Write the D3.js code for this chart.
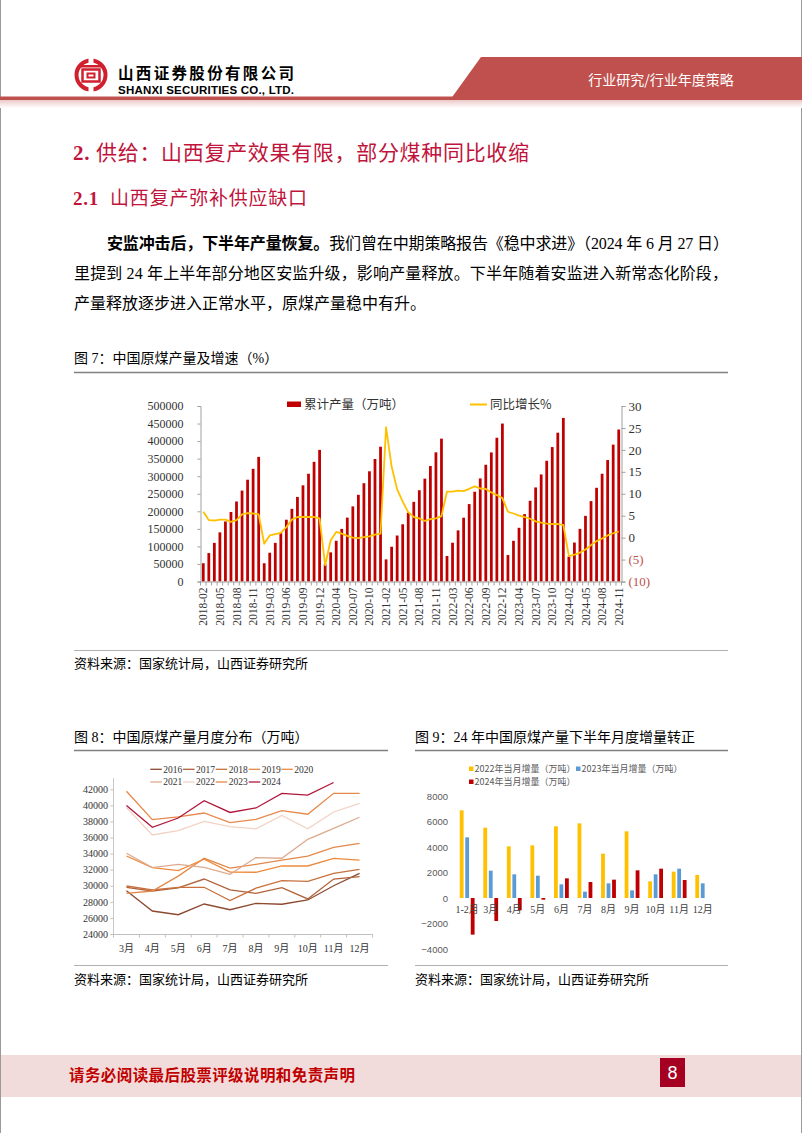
<!DOCTYPE html>
<html><head><meta charset="utf-8">
<script src="https://cdn.jsdelivr.net/npm/d3@7/dist/d3.min.js"></script>
<style>body{margin:0;background:#fff} svg{display:block}</style>
</head><body>
<svg id="page" width="802" height="1133"></svg>
<script>
// ---------------- DATA ----------------
// Figure 7: cumulative raw coal output (万吨) and YoY growth (%)
const c1Months = [
 '2018-02','2018-03','2018-04','2018-05','2018-06','2018-07','2018-08','2018-09','2018-10','2018-11','2018-12',
 '2019-02','2019-03','2019-04','2019-05','2019-06','2019-07','2019-08','2019-09','2019-10','2019-11','2019-12',
 '2020-02','2020-03','2020-04','2020-05','2020-06','2020-07','2020-08','2020-09','2020-10','2020-11','2020-12',
 '2021-02','2021-03','2021-04','2021-05','2021-06','2021-07','2021-08','2021-09','2021-10','2021-11','2021-12',
 '2022-02','2022-03','2022-04','2022-05','2022-06','2022-07','2022-08','2022-09','2022-10','2022-11','2022-12',
 '2023-02','2023-03','2023-04','2023-05','2023-06','2023-07','2023-08','2023-09','2023-10','2023-11','2023-12',
 '2024-02','2024-03','2024-04','2024-05','2024-06','2024-07','2024-08','2024-09','2024-10','2024-11'];
const cum2018 = [52000, 81000, 110000, 140000, 171000, 198000, 228000, 259000, 290000, 321000, 355000];
const cum2019 = [52000, 82000, 110000, 139000, 176000, 207000, 241000, 274000, 307000, 341000, 375000];
const cum2020 = [49000, 83000, 116000, 150000, 182000, 214000, 247000, 280000, 314000, 349000, 384000];
const cum2021 = [63000, 99000, 131000, 163000, 196000, 227000, 260000, 293000, 329000, 368000, 407000];
const cum2022 = [72600, 110500, 145700, 181800, 220600, 255700, 293700, 332600, 367700, 409500, 450000];
const cum2023 = [75400, 116000, 153000, 192000, 230000, 268000, 305000, 344000, 383000, 424000, 466000];
const cum2024 = [71000, 111000, 150000, 187000, 229000, 267000, 307000, 346000, 390000, 433000];
const yoy2018 = [5.9, 4.0, 3.9, 4.1, 4.1, 3.6, 4.0, 5.3, 5.6, 5.5, 5.3];
const yoy2019 = [-1.4, 0.5, 0.8, 1.1, 2.4, 4.1, 4.7, 4.7, 4.7, 4.7, 4.4];
const yoy2020 = [-6.3, -0.6, 1.3, 0.9, 0.4, 0.0, -0.1, 0.1, 0.3, 0.7, 0.9];
const yoy2021 = [25.2, 16.2, 11.0, 8.2, 5.8, 4.7, 4.4, 3.8, 4.2, 4.4, 4.9];
const yoy2022 = [10.5, 10.5, 10.7, 10.6, 11.1, 11.7, 11.2, 11.1, 10.3, 9.7, 9.0];
const yoy2023 = [5.9, 5.5, 5.0, 4.7, 4.3, 3.7, 3.4, 3.2, 3.1, 3.1, 2.9];
const yoy2024 = [-4.2, -3.9, -3.4, -2.7, -1.7, -0.8, -0.2, 0.5, 1.0, 1.4];
const c1LeftTicks = [0, 50000, 100000, 150000, 200000, 250000, 300000, 350000, 400000, 450000, 500000];
const c1RightTicks = [-10, -5, 0, 5, 10, 15, 20, 25, 30];

// Figure 8: monthly raw coal output by year (万吨)
const c2Months = ['3月','4月','5月','6月','7月','8月','9月','10月','11月','12月'];
const c2Years = ['2016','2017','2018','2019','2020','2021','2022','2023','2024'];
const m2016 = [29390, 26860, 26400, 27730, 27020, 27820, 27700, 28230, 30000, 31550];
const m2017 = [29810, 29350, 29750, 30840, 29480, 29060, 29770, 28360, 30840, 31130];
const m2018 = [29970, 29480, 29810, 29810, 28150, 29700, 30630, 30550, 31550, 32050];
const m2019 = [29060, 29350, 31200, 33420, 32200, 32670, 33200, 33700, 34790, 35280];
const m2020 = [33700, 32250, 31880, 33300, 31700, 31680, 32460, 32460, 33400, 33200];
const m2021 = [34040, 32250, 32670, 32300, 31420, 33500, 33420, 35780, 37150, 38520];
const m2022 = [39720, 36320, 36860, 38000, 37360, 37070, 38750, 37080, 39180, 40260];
const m2023 = [41750, 38220, 38560, 39050, 37850, 38270, 39340, 38900, 41500, 41500];
const m2024 = [39970, 37270, 38430, 40590, 39120, 39680, 41500, 41270, 42850, null];
const c2Ticks = [24000, 26000, 28000, 30000, 32000, 34000, 36000, 38000, 40000, 42000];

// Figure 9: monthly increment (万吨)
const c3Months = ['1-2月','3月','4月','5月','6月','7月','8月','9月','10月','11月','12月'];
const c3Series = ['2022年当月增量（万吨）','2023年当月增量（万吨）','2024年当月增量（万吨）'];
const inc2022 = [6875, 5516, 4052, 4130, 5620, 5855, 3477, 5228, 1307, 2065, 1804];
const inc2023 = [4757, 2143, 1856, 1751, 1072, 497, 1150, 601, 1856, 2300, 1150];
const inc2024 = [-2875, -1804, -967, -131, 1542, 1255, 1438, 2170, 2300, 1412, null];
const c3Ticks = [-4000, -2000, 0, 2000, 4000, 6000, 8000];

// ---------------- STYLE ----------------
const SERIF = '"Liberation Serif","Noto Sans CJK SC",serif';
const CJK = '"Noto Sans CJK SC",sans-serif';
const RED = '#C0143C';
const svg = d3.select('#page');

function txt(g, x, y, s, size, opts = {}) {
  const t = g.append('text').attr('x', x).attr('y', y).text(s)
    .style('font-size', size + 'px')
    .style('font-family', opts.family || CJK)
    .style('fill', opts.fill || '#000')
    .style('font-weight', opts.weight || 400)
    .style('white-space', 'pre');
  if (opts.anchor) t.attr('text-anchor', opts.anchor);
  if (opts.width) fit(t, opts.width);
  return t;
}
function fit(t, width) {
  const s = t.text();
  const n = s.length;
  const w = t.node().getComputedTextLength();
  if (n > 1) t.style('letter-spacing', ((width - w) / (n - 1)) + 'px');
}
function richLine(g, x, y, parts, size, width, fill, weights) {
  const t = g.append('text').attr('x', x).attr('y', y)
    .style('font-size', size + 'px').style('font-family', SERIF).style('white-space', 'pre').style('fill', fill || '#000');
  parts.forEach(p => t.append('tspan').text(p[0]).style('font-weight', p[1] ? 700 : 400));
  if (width) {
    const n = parts.map(p => p[0]).join('').length;
    const w = t.node().getComputedTextLength();
    t.style('letter-spacing', ((width - w) / (n - 1)) + 'px');
  }
  return t;
}

// ---------------- PAGE FRAME ----------------
svg.append('rect').attr('width', 802).attr('height', 1133).attr('fill', '#fff');
svg.append('line').attr('x1', 0.5).attr('x2', 0.5).attr('y1', 0).attr('y2', 1133).attr('stroke', '#9a9a9a');
svg.append('line').attr('x1', 801.5).attr('x2', 801.5).attr('y1', 0).attr('y2', 1133).attr('stroke', '#9a9a9a');

// header
const defs = svg.append('defs');
const gr = defs.append('linearGradient').attr('id', 'pinkfade').attr('x1', 0).attr('x2', 0).attr('y1', 0).attr('y2', 1);
gr.append('stop').attr('offset', 0).attr('stop-color', '#EBC9C8');
gr.append('stop').attr('offset', 1).attr('stop-color', '#ffffff');
svg.append('rect').attr('x', 0).attr('y', 100).attr('width', 802).attr('height', 8).attr('fill', 'url(#pinkfade)');
svg.append('rect').attr('x', 0).attr('y', 96.5).attr('width', 460).attr('height', 3.5).attr('fill', '#C0504D');
svg.append('polygon').attr('points', '450,100 481,57 802,57 802,100').attr('fill', '#C0504D');
txt(svg, 661, 85, '行业研究/行业年度策略', 14, { fill: '#fff', anchor: 'middle' });

// logo
const logo = svg.append('g').attr('transform', 'translate(91,75)');
const LC = '#D0202E';
logo.append('circle').attr('r', 14.5).attr('fill', 'none').attr('stroke', LC).attr('stroke-width', 4);
logo.append('rect').attr('x', -2.5).attr('y', -17).attr('width', 5).attr('height', 6).attr('fill', '#fff');
logo.append('rect').attr('x', -2.5).attr('y', 11).attr('width', 5).attr('height', 6).attr('fill', '#fff');
logo.append('rect').attr('x', -8.5).attr('y', -5.5).attr('width', 17).attr('height', 12).attr('fill', 'none').attr('stroke', LC).attr('stroke-width', 2.5);
logo.append('rect').attr('x', -3.5).attr('y', -1.5).attr('width', 7).attr('height', 4).attr('fill', 'none').attr('stroke', LC).attr('stroke-width', 2);
logo.append('rect').attr('x', -11).attr('y', -10).attr('width', 22).attr('height', 2.5).attr('fill', LC);
txt(svg, 118, 79, '山西证券股份有限公司', 15.5, { weight: 700, width: 176 });
txt(svg, 118, 94, 'SHANXI SECURITIES CO., LTD.', 11.5, { weight: 700, family: '"Liberation Sans",sans-serif', width: 176 });

// headings & paragraph
richLine(svg, 73, 160, [['2. ', true], ['供给：山西复产效果有限，部分煤种同比收缩', false]], 21, 456, RED);
richLine(svg, 73, 205, [['2.1  ', true], ['山西复产弥补供应缺口', false]], 19, 234, RED);

richLine(svg, 107, 249, [['安监冲击后，下半年产量恢复。', true], ['我们曾在中期策略报告《稳中求进》（2024 年 6 月 27 日）', false]], 16, 622);
richLine(svg, 74, 279, [['里提到 24 年上半年部分地区安监升级，影响产量释放。下半年随着安监进入新常态化阶段，', false]], 16, 654);
richLine(svg, 74, 309, [['产量释放逐步进入正常水平，原煤产量稳中有升。', false]], 16, 0);

// captions & rules
function caption(x, y, s) { return txt(svg, x, y, s, 14, { family: SERIF }); }
function rule(x1, x2, y, w, c) { svg.append('line').attr('x1', x1).attr('x2', x2).attr('y1', y).attr('y2', y).attr('stroke', c).attr('stroke-width', w); }
caption(74, 363, '图 7：中国原煤产量及增速（%）');
rule(74, 728, 372.5, 1.5, '#808080');
rule(74, 728, 650.5, 1, '#b0b0b0');
txt(svg, 74, 668, '资料来源：国家统计局，山西证券研究所', 13);
caption(74, 742, '图 8：中国原煤产量月度分布（万吨）');
caption(415, 742, '图 9：24 年中国原煤产量下半年月度增量转正');
rule(74, 388, 750.5, 1.5, '#808080');
rule(415, 728, 750.5, 1.5, '#808080');
rule(74, 388, 965.5, 1, '#b0b0b0');
rule(415, 728, 965.5, 1, '#b0b0b0');
txt(svg, 74, 984, '资料来源：国家统计局，山西证券研究所', 13);
txt(svg, 415, 984, '资料来源：国家统计局，山西证券研究所', 13);

// footer
svg.append('rect').attr('x', 1).attr('y', 1055).attr('width', 800).attr('height', 42).attr('fill', '#F2DCDB');
txt(svg, 69, 1081, '请务必阅读最后股票评级说明和免责声明', 15.5, { fill: '#C00000', weight: 700, width: 286 });
svg.append('rect').attr('x', 660).attr('y', 1058).attr('width', 25).attr('height', 29).attr('fill', '#A50021');
txt(svg, 672.5, 1079, '8', 18, { fill: '#fff', anchor: 'middle', family: '"Liberation Sans Narrow","Liberation Sans",sans-serif' });

// ---------------- CHART 1 ----------------
(function () {
  const g = svg.append('g');
  const cum = [].concat(cum2018, cum2019, cum2020, cum2021, cum2022, cum2023, cum2024);
  const yoy = [].concat(yoy2018, yoy2019, yoy2020, yoy2021, yoy2022, yoy2023, yoy2024);
  const data = c1Months.map((m, i) => ({ m, v: cum[i], r: yoy[i] }));
  const x = d3.scaleBand().domain(c1Months).range([200.5, 621.5]).paddingInner(0.5).paddingOuter(0.25);
  const yL = d3.scaleLinear().domain([0, 500000]).range([581.5, 406]);
  const yR = d3.scaleLinear().domain([-10, 30]).range([581.5, 406]);
  const step = x.step();

  // bars
  g.selectAll('rect.bar').data(data).join('rect').attr('class', 'bar')
    .attr('x', d => x(d.m)).attr('width', x.bandwidth())
    .attr('y', d => yL(d.v)).attr('height', d => yL(0) - yL(d.v)).attr('fill', '#C00000');

  // axes
  const left = g.append('g').attr('transform', 'translate(200.5,0)')
    .call(d3.axisLeft(yL).tickValues(c1LeftTicks).tickSize(3).tickPadding(14).tickFormat(d3.format('d')));
  left.select('.domain').attr('stroke', '#a0a0a0');
  left.selectAll('.tick line').attr('stroke', '#a0a0a0');
  left.selectAll('text').style('font-family', SERIF).style('font-size', '12px').style('fill', '#333');

  const right = g.append('g').attr('transform', 'translate(621.5,0)')
    .call(d3.axisRight(yR).tickValues(c1RightTicks).tickSize(4).tickPadding(3).tickFormat(d => d < 0 ? '(' + (-d) + ')' : d));
  right.select('.domain').attr('stroke', '#a0a0a0');
  right.selectAll('.tick line').attr('stroke', '#a0a0a0');
  right.selectAll('text').style('font-family', SERIF).style('font-size', '13px').style('fill', d => d < 0 ? '#C0504D' : '#333');

  const bottom = g.append('g').attr('transform', 'translate(0,581.5)')
    .call(d3.axisBottom(x).tickSize(0).tickPadding(0).tickValues(c1Months.filter((d, i) => i % 3 === 0)));
  bottom.select('.domain').attr('stroke', '#a0a0a0');
  bottom.selectAll('text')
    .attr('transform', 'rotate(-90)').attr('text-anchor', 'end')
    .attr('x', -6).attr('y', 0).attr('dy', '0.35em')
    .style('font-family', SERIF).style('font-size', '11.5px').style('fill', '#333');
  // category boundary ticks
  g.append('g').selectAll('line').data(c1Months.concat(['end'])).join('line')
    .attr('x1', (d, i) => 200.5 + i * step).attr('x2', (d, i) => 200.5 + i * step)
    .attr('y1', 581.5).attr('y2', 585.5).attr('stroke', '#a0a0a0');

  // yoy line
  g.append('path').datum(data)
    .attr('d', d3.line().x(d => x(d.m) + x.bandwidth() / 2).y(d => yR(d.r)))
    .attr('fill', 'none').attr('stroke', '#FFC000').attr('stroke-width', 1.8).attr('stroke-linejoin', 'round');

  // legend
  g.append('rect').attr('x', 287).attr('y', 401.5).attr('width', 14).attr('height', 5.5).attr('fill', '#C00000');
  txt(g, 304, 408.5, '累计产量（万吨）', 12.5, { fill: '#333' });
  g.append('line').attr('x1', 470).attr('x2', 487).attr('y1', 404.5).attr('y2', 404.5).attr('stroke', '#FFC000').attr('stroke-width', 2);
  txt(g, 490, 408.5, '同比增长%', 12.5, { fill: '#333' });
})();

// ---------------- CHART 2 ----------------
(function () {
  const g = svg.append('g');
  const series = [m2016, m2017, m2018, m2019, m2020, m2021, m2022, m2023, m2024];
  const colors = ['#8C4A2F', '#B0613A', '#C8703C', '#E2894A', '#EE8A3C', '#DDAA8F', '#F2D2C3', '#E8874A', '#B0173A'];
  const x = d3.scaleBand().domain(c2Months).range([113.5, 372.5]);
  const y = d3.scaleLinear().domain([24000, 42000]).range([934, 789.3]);
  const yAx = g.append('g').attr('transform', 'translate(113.5,0)')
    .call(d3.axisLeft(y).tickValues(c2Ticks).tickSize(3).tickPadding(2.5).tickFormat(d3.format('d')));
  yAx.select('.domain').remove();
  yAx.selectAll('.tick line').attr('stroke', '#c0c0c0');
  yAx.selectAll('text').style('font-family', SERIF).style('font-size', '10px').style('fill', '#333');
  g.append('line').attr('x1', 113.5).attr('x2', 113.5).attr('y1', 778).attr('y2', 934).attr('stroke', '#c8c8c8');

  const xAx = g.append('g').attr('transform', 'translate(0,934)')
    .call(d3.axisBottom(x).tickSize(0).tickPadding(11));
  xAx.select('.domain').attr('stroke', '#c0c0c0');
  xAx.selectAll('text').style('font-family', SERIF).style('font-size', '10px').style('fill', '#333');
  g.append('g').selectAll('line').data(d3.range(c2Months.length + 1)).join('line')
    .attr('x1', i => 113.5 + i * x.step()).attr('x2', i => 113.5 + i * x.step())
    .attr('y1', 934).attr('y2', 937.5).attr('stroke', '#c0c0c0');

  const line = d3.line().defined(d => d.v != null).x(d => x(d.m) + x.bandwidth() / 2).y(d => y(d.v));
  series.forEach((s, k) => {
    g.append('path').datum(c2Months.map((m, i) => ({ m, v: s[i] })))
      .attr('d', line).attr('fill', 'none').attr('stroke', colors[k]).attr('stroke-width', 1.3);
  });

  const colX = [163.3, 196, 228.7, 261.7, 294.3];
  c2Years.forEach((yr, k) => {
    const row = k < 5 ? 0 : 1, col = k < 5 ? k : k - 5;
    const ly = row === 0 ? 769.3 : 782;
    g.append('line').attr('x1', colX[col] - 13).attr('x2', colX[col] - 1.5).attr('y1', ly).attr('y2', ly)
      .attr('stroke', colors[k]).attr('stroke-width', 1.3);
    txt(g, colX[col], ly + 3.3, yr, 9.5, { family: SERIF, fill: '#333' });
  });
})();

// ---------------- CHART 3 ----------------
(function () {
  const g = svg.append('g');
  const series = [inc2022, inc2023, inc2024];
  const colors = ['#FFC000', '#5B9BD5', '#C00000'];
  const x = d3.scaleBand().domain(c3Months).range([455.4, 714.5]);
  const y = d3.scaleLinear().domain([-4000, 8000]).range([949, 796]);
  const yAx = g.append('g').attr('transform', 'translate(452,0)')
    .call(d3.axisLeft(y).tickValues(c3Ticks).tickSize(0).tickPadding(4).tickFormat(d3.format('d')));
  yAx.select('.domain').remove();
  yAx.selectAll('text').style('font-family', '"Liberation Sans",sans-serif').style('font-size', '9.5px').style('fill', '#595959');

  const off = [-5.5, 0, 5.5], bw = 3.8;
  series.forEach((s, k) => {
    g.selectAll('rect.s' + k).data(c3Months.map((m, i) => ({ m, v: s[i] })).filter(d => d.v != null)).join('rect')
      .attr('class', 's' + k)
      .attr('x', d => x(d.m) + x.bandwidth() / 2 + off[k] - bw / 2).attr('width', bw)
      .attr('y', d => Math.min(y(d.v), y(0))).attr('height', d => Math.abs(y(d.v) - y(0)))
      .attr('fill', colors[k]);
  });
  const xAx = g.append('g').attr('transform', 'translate(0,' + y(0) + ')')
    .call(d3.axisBottom(x).tickSize(0).tickPadding(8));
  xAx.select('.domain').remove();
  xAx.selectAll('text').style('font-family', SERIF).style('font-size', '10px').style('fill', '#404040');

  const leg = [[469, 769], [576, 769], [469, 782]];
  c3Series.forEach((s, k) => {
    g.append('rect').attr('x', leg[k][0]).attr('y', leg[k][1] - 2.5).attr('width', 4.5).attr('height', 4.5).attr('fill', colors[k]);
    txt(g, leg[k][0] + 5.5, leg[k][1] + 3, s, 9, { fill: '#595959' });
  });
})();
</script>
</body></html>
